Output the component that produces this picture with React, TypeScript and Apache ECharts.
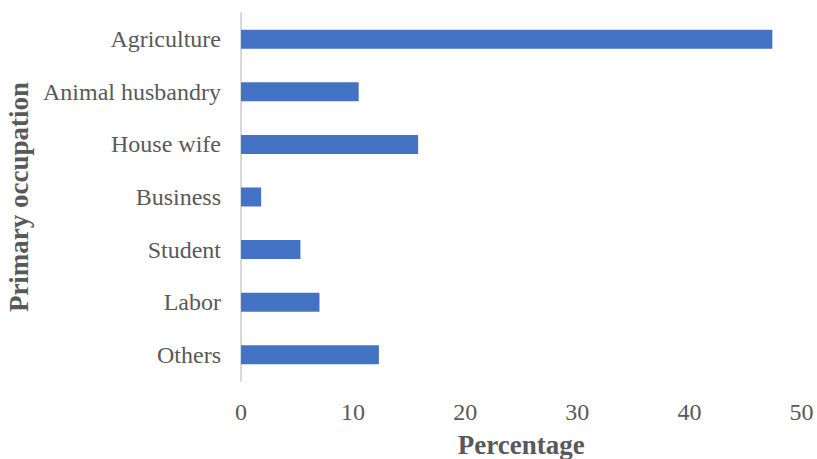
import React, { useEffect, useRef } from "react";
import * as echarts from "echarts";

const categories = ["Agriculture", "Animal husbandry", "House wife", "Business", "Student", "Labor", "Others"];
const percentages = [47.4, 10.5, 15.8, 1.8, 5.3, 7.0, 12.3];
const xTicks = { min: 0, max: 50, interval: 10 };
const xTitle = "Percentage";
const yTitle = "Primary occupation";

const FONT = "'Liberation Serif', 'Times New Roman', serif";
const TEXT = "#595959";

export default function App() {
  const ref = useRef<HTMLDivElement>(null);
  useEffect(() => {
    if (!ref.current) return;
    const chart = echarts.init(ref.current, null, { renderer: "svg" });
    chart.setOption({
      animation: false,
      grid: { left: 241, right: 15.5, top: 13, bottom: 78, containLabel: false, outerBoundsMode: "none" },
      xAxis: {
        type: "value",
        min: xTicks.min,
        max: xTicks.max,
        interval: xTicks.interval,
        axisLine: { show: false },
        axisTick: { show: false },
        splitLine: { show: false },
        axisLabel: { color: TEXT, fontFamily: FONT, fontSize: 24, margin: 19 },
        name: xTitle,
        nameLocation: "middle",
        nameGap: 50,
        nameTextStyle: { color: TEXT, fontFamily: FONT, fontSize: 27, fontWeight: "bold" },
      },
      yAxis: {
        type: "category",
        data: categories,
        inverse: true,
        axisLine: { show: true, lineStyle: { color: "#d9d9d9", width: 2 } },
        axisTick: { show: false },
        splitLine: { show: false },
        axisLabel: { color: TEXT, fontFamily: FONT, fontSize: 24, margin: 20 },
        name: yTitle,
        nameLocation: "middle",
        nameRotate: 90,
        nameGap: 204,
        nameTextStyle: { color: TEXT, fontFamily: FONT, fontSize: 27, fontWeight: "bold" },
      },
      series: [
        {
          type: "bar",
          data: percentages,
          barWidth: 19,
          itemStyle: { color: "#4472C4" },
        },
      ],
    });
    return () => chart.dispose();
  }, []);
  return (
    <div
      ref={ref}
      style={{ position: "fixed", left: 0, top: 0, width: 817, height: 459, background: "#fff" }}
    />
  );
}
